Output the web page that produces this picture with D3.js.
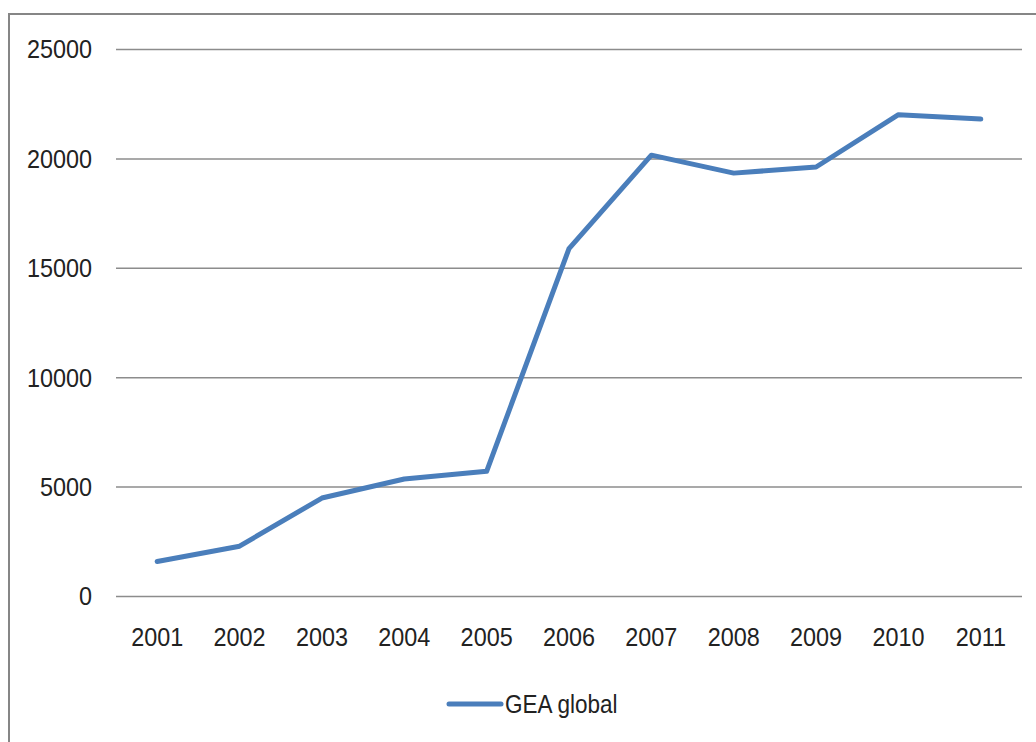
<!DOCTYPE html>
<html><head><meta charset="utf-8">
<script src="https://cdn.jsdelivr.net/npm/d3@7/dist/d3.min.js"></script>
<style>
html,body{margin:0;padding:0;background:#fff;}
svg{display:block;}
text{font-family:"Liberation Sans",Arial,sans-serif;fill:#222;}
</style></head>
<body>
<svg id="chart" width="1036" height="742"></svg>
<script>
const years = ["2001","2002","2003","2004","2005","2006","2007","2008","2009","2010","2011"];
const gea = [1600, 2300, 4500, 5370, 5720, 15900, 20170, 19350, 19630, 22020, 21820];
const yTicks = [0, 5000, 10000, 15000, 20000, 25000];
const seriesName = "GEA global";

(function(){
const sx = 0.9;
const svg = d3.select("#chart");
svg.append("rect").attr("x",9).attr("y",14).attr("width",1100).attr("height",800)
  .attr("fill","none").attr("stroke","#868686").attr("stroke-width",2);

const pLeft = 116, pRight = 1022, pTop = 49.5, pBottom = 596.5;
const x = d3.scaleBand().domain(years).range([pLeft,pRight]);
const y = d3.scaleLinear().domain([0,25000]).range([pBottom,pTop]);

svg.append("g").selectAll("line").data(yTicks).join("line")
  .attr("x1",pLeft).attr("x2",pRight)
  .attr("y1",d=>y(d)).attr("y2",d=>y(d))
  .attr("stroke","#8c8c8c").attr("stroke-width",1.5);

const yAxis = d3.axisLeft(y).tickValues(yTicks).tickSize(0).tickPadding(24).tickFormat(d3.format("d"));
const gy = svg.append("g").attr("transform",`translate(${pLeft},0)`).call(yAxis);
gy.select(".domain").remove();
gy.selectAll("text").attr("font-size",26).attr("font-family",null).attr("fill","#222")
  .attr("x",-24/sx).attr("transform",`scale(${sx},1)`);

const xAxis = d3.axisBottom(x).tickSize(0).tickPadding(31);
const gx = svg.append("g").attr("transform",`translate(0,${pBottom})`).call(xAxis);
gx.select(".domain").remove();
gx.selectAll("text").attr("font-size",26).attr("font-family",null).attr("fill","#222")
  .attr("transform",`scale(${sx},1)`);

const line = d3.line().x((d,i)=>x(years[i])+x.bandwidth()/2).y(d=>y(d));
svg.append("path").datum(gea).attr("d",line)
  .attr("fill","none").attr("stroke","#4a7ebb").attr("stroke-width",5)
  .attr("stroke-linejoin","round").attr("stroke-linecap","round");

const lg = svg.append("g");
lg.append("line").attr("x1",449).attr("x2",501).attr("y1",704).attr("y2",704)
  .attr("stroke","#4a7ebb").attr("stroke-width",5).attr("stroke-linecap","round");
lg.append("text").attr("transform",`translate(505,704) scale(${sx},1)`).attr("dy","0.35em")
  .attr("font-size",25).text(seriesName);
})();
</script>
</body></html>
